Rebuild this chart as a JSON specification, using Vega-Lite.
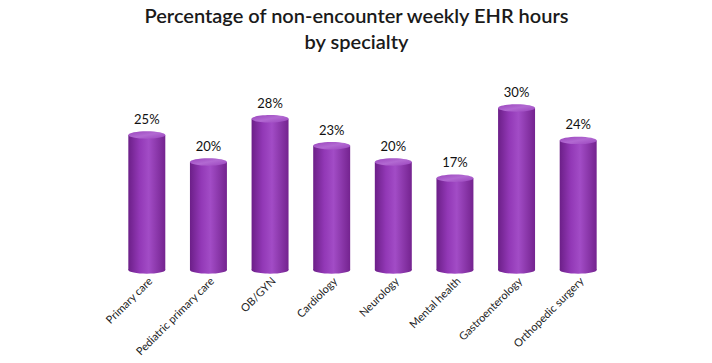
{
  "$schema": "https://vega.github.io/schema/vega-lite/v6.json",
  "autosize": "none",
  "width": 493,
  "height": 189,
  "padding": {"left": 116, "top": 81, "right": 103, "bottom": 93},
  "background": "white",
  "config": {"view": {"stroke": null}, "font": "Lato"},
  "title": {
    "text": ["Percentage of non-encounter weekly EHR hours", "by specialty"],
    "font": "Lato",
    "fontSize": 20,
    "fontWeight": 600,
    "color": "#1a1a1a",
    "lineHeight": 26,
    "offset": 28,
    "anchor": "middle",
    "dx": -6
  },
  "data": {
    "values": [
      {"specialty": "Primary care", "pct": 25},
      {"specialty": "Pediatric primary care", "pct": 20},
      {"specialty": "OB/GYN", "pct": 28},
      {"specialty": "Cardiology", "pct": 23},
      {"specialty": "Neurology", "pct": 20},
      {"specialty": "Mental health", "pct": 17},
      {"specialty": "Gastroenterology", "pct": 30},
      {"specialty": "Orthopedic surgery", "pct": 24}
    ]
  },
  "encoding": {
    "x": {
      "field": "specialty",
      "type": "nominal",
      "sort": null,
      "scale": {"paddingInner": 0.4, "paddingOuter": 0.2},
      "axis": {
        "title": null,
        "labelAngle": -45,
        "domain": false,
        "ticks": false,
        "labelPadding": 5,
        "labelFont": "Lato",
        "labelFontSize": 11,
        "labelColor": "#222222"
      }
    }
  },
  "layer": [
    {
      "mark": {
        "type": "bar",
        "fill": {
          "x1": 0, "y1": 0, "x2": 1, "y2": 0,
          "gradient": "linear",
          "stops": [
            {"offset": 0, "color": "#6c1f88"},
            {"offset": 0.3, "color": "#9238b6"},
            {"offset": 0.55, "color": "#a24cc6"},
            {"offset": 1, "color": "#74238f"}
          ]
        }
      },
      "encoding": {
        "y": {"field": "pct", "type": "quantitative", "scale": {"domain": [0, 35]}, "axis": null}
      }
    },
    {
      "mark": {
        "type": "point",
        "filled": true,
        "opacity": 1,
        "size": 1369,
        "shape": "M -1 0 A 1 0.2 0 1 1 1 0 A 1 0.2 0 1 1 -1 0 Z",
        "fill": {
          "x1": 0, "y1": 0, "x2": 1, "y2": 0,
          "gradient": "linear",
          "stops": [
            {"offset": 0, "color": "#6c1f88"},
            {"offset": 0.3, "color": "#9238b6"},
            {"offset": 0.55, "color": "#a24cc6"},
            {"offset": 1, "color": "#74238f"}
          ]
        },
        "strokeWidth": 0
      },
      "encoding": {
        "y": {"datum": 0, "type": "quantitative"}
      }
    },
    {
      "mark": {
        "type": "point",
        "filled": true,
        "opacity": 1,
        "size": 1369,
        "shape": "M -1 0 A 1 0.2 0 1 1 1 0 A 1 0.2 0 1 1 -1 0 Z",
        "fill": {
          "x1": 0, "y1": 0, "x2": 1, "y2": 1,
          "gradient": "linear",
          "stops": [
            {"offset": 0, "color": "#9a45bd"},
            {"offset": 0.5, "color": "#b269d2"},
            {"offset": 1, "color": "#9a45bd"}
          ]
        },
        "strokeWidth": 0
      },
      "encoding": {
        "y": {"field": "pct", "type": "quantitative"}
      }
    },
    {
      "mark": {"type": "text", "dy": -15, "font": "Lato", "fontSize": 13, "color": "#111111", "text": {"expr": "datum.pct + '%'"}},
      "encoding": {
        "y": {"field": "pct", "type": "quantitative"}
      }
    }
  ]
}
